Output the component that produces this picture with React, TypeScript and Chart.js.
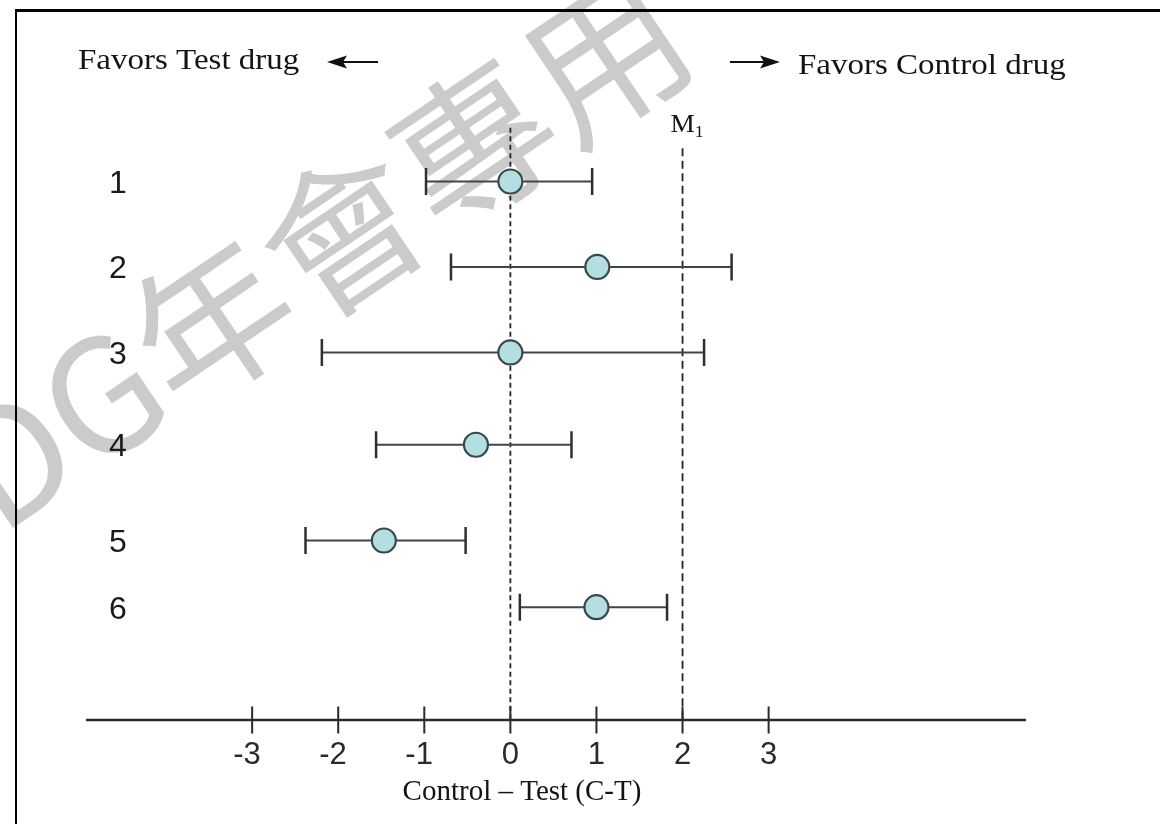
import React, { useEffect, useRef } from "react";
import { Chart, registerables } from "chart.js";

Chart.register(...registerables);

// ---- data ----
const rowLabels = ["1", "2", "3", "4", "5", "6"];
const rowPos = [1, 2, 3, 4.08, 5.2, 5.98];
const estimates = [0, 1.01, 0, -0.4, -1.47, 1.0];
const lowerCI = [-0.98, -0.69, -2.19, -1.56, -2.38, 0.11];
const upperCI = [0.95, 2.57, 2.25, 0.71, -0.52, 1.82];
const xTicks = [-3, -2, -1, 0, 1, 2, 3];
const xTickLabels = ["-3", "-2", "-1", "0", "1", "2", "3"];
const marginM1 = 2;
const nullValue = 0;
const xTitle = "Control – Test (C-T)";
const leftNote = "Favors Test drug";
const rightNote = "Favors Control drug";
const m1Label = "M";
const m1Sub = "1";
const watermark = "DG年會專用";

const X_MIN = -4.93;
const X_MAX = 5.99;
const Y_MIN = 0;
const Y_MAX = 7.3;

function stretchedText(
  ctx: CanvasRenderingContext2D,
  text: string,
  x: number,
  y: number,
  font: string,
  sx: number,
  align: CanvasTextAlign = "left",
  color = "#141414"
) {
  ctx.save();
  ctx.font = font;
  ctx.fillStyle = color;
  ctx.textAlign = align;
  ctx.textBaseline = "alphabetic";
  ctx.translate(x, y);
  ctx.scale(sx, 1);
  ctx.fillText(text, 0, 0);
  ctx.restore();
}

function arrow(ctx: CanvasRenderingContext2D, x1: number, x2: number, y: number) {
  // from x1 (tail) to x2 (tip)
  const dir = Math.sign(x2 - x1);
  const head = 20;
  ctx.save();
  ctx.strokeStyle = "#111";
  ctx.fillStyle = "#111";
  ctx.lineWidth = 2.2;
  ctx.beginPath();
  ctx.moveTo(x1, y);
  ctx.lineTo(x2 - dir * head * 0.6, y);
  ctx.stroke();
  ctx.beginPath();
  ctx.moveTo(x2, y);
  ctx.lineTo(x2 - dir * head, y - 6.5);
  ctx.lineTo(x2 - dir * head * 0.8, y);
  ctx.lineTo(x2 - dir * head, y + 6.5);
  ctx.closePath();
  ctx.fill();
  ctx.restore();
}

const forestPlugin = {
  id: "forestPlugin",
  beforeDraw(chart: any) {
    const ctx: CanvasRenderingContext2D = chart.ctx;
    const { width, height } = chart;
    ctx.save();
    ctx.fillStyle = "#ffffff";
    ctx.fillRect(0, 0, width, height);

    // watermark
    ctx.font = '158px "Noto Sans CJK TC", "Noto Sans CJK SC", sans-serif';
    const pre = ctx.measureText("DG年").width;
    const mid = ctx.measureText("會").width;
    const ang = (-34 * Math.PI) / 180;
    const cx = 343;
    const cy = 233;
    const d = pre + mid / 2;
    const ox = cx - Math.cos(ang) * d;
    const oy = cy - Math.sin(ang) * d;
    ctx.translate(ox, oy);
    ctx.rotate(ang);
    ctx.fillStyle = "#cbcbcb";
    ctx.textAlign = "left";
    ctx.textBaseline = "middle";
    ctx.fillText(watermark, 0, 0);
    ctx.restore();

    // frame
    ctx.save();
    ctx.strokeStyle = "#000";
    ctx.lineWidth = 3;
    ctx.beginPath();
    ctx.moveTo(15, 10.5);
    ctx.lineTo(width, 10.5);
    ctx.stroke();
    ctx.lineWidth = 2;
    ctx.beginPath();
    ctx.moveTo(16, 9);
    ctx.lineTo(16, height);
    ctx.stroke();
    ctx.restore();
  },
  beforeDatasetsDraw(chart: any) {
    const ctx: CanvasRenderingContext2D = chart.ctx;
    const xs = chart.scales.x;
    const ys = chart.scales.y;
    const area = chart.chartArea;
    ctx.save();

    // reference lines
    ctx.strokeStyle = "#222";
    ctx.lineWidth = 1.8;
    ctx.setLineDash([5, 3.5]);
    ctx.beginPath();
    ctx.moveTo(xs.getPixelForValue(nullValue), ys.getPixelForValue(0.37));
    ctx.lineTo(xs.getPixelForValue(nullValue), ys.getPixelForValue(Y_MAX));
    ctx.stroke();
    ctx.setLineDash([8, 4.5]);
    ctx.beginPath();
    ctx.moveTo(xs.getPixelForValue(marginM1), ys.getPixelForValue(0.61));
    ctx.lineTo(xs.getPixelForValue(marginM1), ys.getPixelForValue(Y_MAX));
    ctx.stroke();
    ctx.setLineDash([]);

    // axis line
    const axisY = ys.getPixelForValue(Y_MAX);
    ctx.strokeStyle = "#2a2a2a";
    ctx.lineWidth = 2.5;
    ctx.beginPath();
    ctx.moveTo(area.left, axisY);
    ctx.lineTo(area.right, axisY);
    ctx.stroke();
    // tick marks
    ctx.lineWidth = 2;
    xTicks.forEach((t) => {
      const px = xs.getPixelForValue(t);
      ctx.beginPath();
      ctx.moveTo(px, axisY - 13.5);
      ctx.lineTo(px, axisY + 13.5);
      ctx.stroke();
    });

    // error bars
    rowPos.forEach((r, i) => {
      const py = ys.getPixelForValue(r);
      const l = xs.getPixelForValue(lowerCI[i]);
      const u = xs.getPixelForValue(upperCI[i]);
      ctx.strokeStyle = "#444";
      ctx.lineWidth = 2;
      ctx.beginPath();
      ctx.moveTo(l, py);
      ctx.lineTo(u, py);
      ctx.stroke();
      ctx.strokeStyle = "#2f2f2f";
      ctx.lineWidth = 2.5;
      ctx.beginPath();
      ctx.moveTo(l, py - 13.5);
      ctx.lineTo(l, py + 13.5);
      ctx.moveTo(u, py - 13.5);
      ctx.lineTo(u, py + 13.5);
      ctx.stroke();
    });
    ctx.restore();
  },
  afterDraw(chart: any) {
    const ctx: CanvasRenderingContext2D = chart.ctx;
    const xs = chart.scales.x;
    const ys = chart.scales.y;
    const axisY = ys.getPixelForValue(Y_MAX);

    // tick labels: digits centred on tick, minus sign hanging left
    ctx.save();
    ctx.font = '31px "Liberation Sans", Arial, sans-serif';
    ctx.fillStyle = "#2a2a2a";
    ctx.textBaseline = "alphabetic";
    ctx.textAlign = "right";
    xTickLabels.forEach((lab, i) => {
      const px = xs.getPixelForValue(xTicks[i]);
      const w = ctx.measureText(lab.replace("-", "")).width;
      ctx.fillText(lab, px + w / 2, axisY + 44);
    });
    ctx.restore();

    // row labels
    ctx.save();
    ctx.font = '32px "Liberation Sans", Arial, sans-serif';
    ctx.fillStyle = "#1a1a1a";
    ctx.textAlign = "center";
    ctx.textBaseline = "alphabetic";
    rowLabels.forEach((lab, i) => {
      const py = ys.getPixelForValue(rowPos[i]);
      ctx.fillText(lab, 118, py + 11.5);
    });
    ctx.restore();

    // axis title
    stretchedText(ctx, xTitle, 522, 800, '29px "Liberation Serif", "Times New Roman", serif', 1, "center");

    // direction notes
    stretchedText(ctx, leftNote, 78, 69, '30px "Liberation Serif", "Times New Roman", serif', 1.1, "left");
    arrow(ctx, 378, 327, 62);
    arrow(ctx, 730, 780, 62);
    stretchedText(ctx, rightNote, 798, 74, '30px "Liberation Serif", "Times New Roman", serif', 1.1, "left");

    // M1 label
    const mx = xs.getPixelForValue(marginM1) - 12;
    ctx.save();
    ctx.font = '26px "Liberation Serif", "Times New Roman", serif';
    const mw = ctx.measureText(m1Label).width * 1.05;
    ctx.restore();
    stretchedText(ctx, m1Label, mx, 132, '26px "Liberation Serif", "Times New Roman", serif', 1.05, "left");
    stretchedText(ctx, m1Sub, mx + mw, 137, '17px "Liberation Serif", "Times New Roman", serif', 1.05, "left");
  },
};

export default function App() {
  const canvasRef = useRef<HTMLCanvasElement | null>(null);

  useEffect(() => {
    if (!canvasRef.current) return;
    const chart = new Chart(canvasRef.current, {
      type: "scatter",
      data: {
        datasets: [
          {
            label: "Estimate",
            data: estimates.map((v, i) => ({ x: v, y: rowPos[i] })),
            pointRadius: 12,
            pointHoverRadius: 12,
            pointBorderWidth: 2.2,
            pointBackgroundColor: "#b3dfe2",
            pointBorderColor: "#394848",
            showLine: false,
          },
        ],
      },
      options: {
        animation: false,
        responsive: false,
        maintainAspectRatio: false,
        events: [],
        layout: { padding: { left: 86, right: 134, top: 96, bottom: 104 } },
        scales: {
          x: { type: "linear", min: X_MIN, max: X_MAX, display: false },
          y: { type: "linear", min: Y_MIN, max: Y_MAX, reverse: true, display: false },
        },
        plugins: {
          legend: { display: false },
          tooltip: { enabled: false },
        },
      },
      plugins: [forestPlugin],
    });
    return () => chart.destroy();
  }, []);

  return (
    <div
      style={{
        position: "fixed",
        left: 0,
        top: 0,
        width: 1160,
        height: 824,
        overflow: "hidden",
        background: "#fff",
      }}
    >
      <canvas ref={canvasRef} width={1160} height={824} style={{ display: "block" }} />
    </div>
  );
}
